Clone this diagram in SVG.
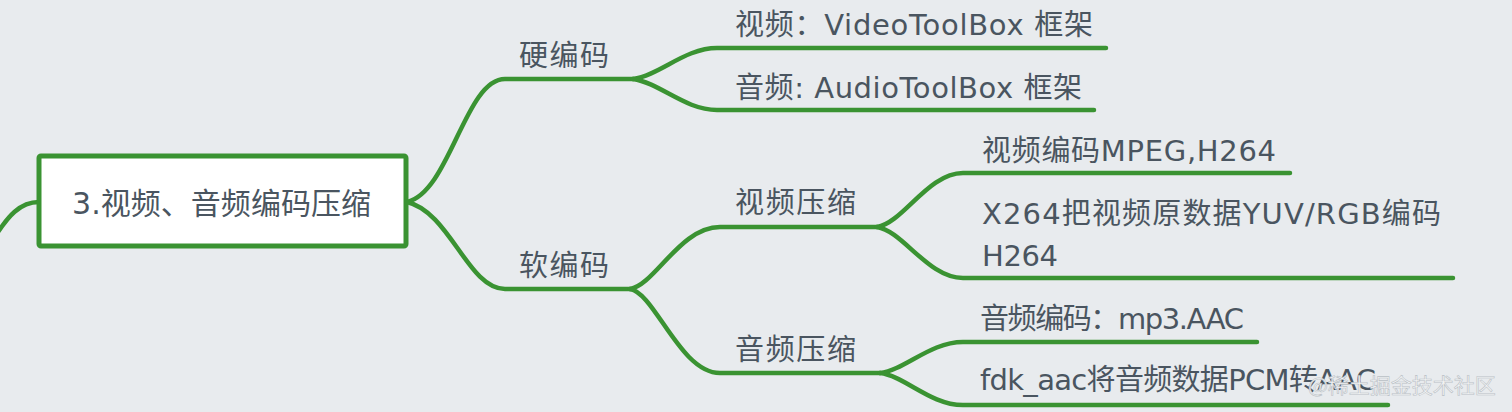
<svg xmlns="http://www.w3.org/2000/svg" width="1512" height="412" viewBox="0 0 1512 412">
<style>
.bg{fill:#e8ebee}
.ln{fill:none;stroke:#3a9332;stroke-width:4.5;stroke-linecap:round;stroke-linejoin:round}
.box{fill:#ffffff;stroke:#3a9332;stroke-width:5}
.t{font-family:"DejaVu Sans","Noto Sans CJK SC",sans-serif;font-size:29px;fill:#4a5560}
.tm{font-size:30px}
.wm{font-family:"Noto Sans CJK SC",sans-serif;font-size:21px;fill:#f3f4f5;stroke:#b9bfc5;stroke-width:0.6}
</style>
<rect class="bg" x="0" y="0" width="1512" height="412"/>
<g id="connectors">
<path class="ln" d="M-6,238 C8,216 20,202 39,202"/>
<path class="ln" d="M407,202 C450,192 465,79 505,79 L633,79"/>
<path class="ln" d="M407,202 C450,212 468,289 505,289 L630,289"/>
<path class="ln" d="M633,79 C660,75 685,48 717,48 L1106,48"/>
<path class="ln" d="M633,79 C660,83 685,110 717,110 L1094,110"/>
<path class="ln" d="M630,289 C655,285 680,227 720,227 L877,227"/>
<path class="ln" d="M630,289 C655,293 680,373 720,373 L880,373"/>
<path class="ln" d="M877,227 C903,223 928,173 963,173 L1290,173"/>
<path class="ln" d="M877,227 C903,231 928,278 963,278 L1453,278"/>
<path class="ln" d="M880,373 C905,370 930,342 963,342 L1257,342"/>
<path class="ln" d="M880,373 C905,376 930,405 963,405 L1388,405"/>
</g>
<g id="root">
<rect class="box" x="39" y="156" width="367" height="90" rx="2"/>
<text class="t tm" x="72" y="214" textLength="299" lengthAdjust="spacing">3.视频、音频编码压缩</text>
</g>
<g id="hard"><text class="t" x="519" y="66" textLength="90" lengthAdjust="spacing">硬编码</text></g>
<g id="soft"><text class="t" x="519" y="276" textLength="90" lengthAdjust="spacing">软编码</text></g>
<g id="hard-video"><text class="t" x="735" y="35" textLength="358" lengthAdjust="spacing">视频：VideoToolBox 框架</text></g>
<g id="hard-audio"><text class="t" x="735" y="98" textLength="347" lengthAdjust="spacing">音频: AudioToolBox 框架</text></g>
<g id="soft-video"><text class="t" x="735" y="213" textLength="121" lengthAdjust="spacing">视频压缩</text></g>
<g id="soft-audio"><text class="t" x="735" y="360" textLength="121" lengthAdjust="spacing">音频压缩</text></g>
<g id="video-mpeg"><text class="t" x="982" y="161" textLength="294" lengthAdjust="spacing">视频编码MPEG,H264</text></g>
<g id="video-x264">
<text class="t" x="982" y="224" textLength="459" lengthAdjust="spacing">X264把视频原数据YUV/RGB编码</text>
<text class="t" x="982" y="266" textLength="76" lengthAdjust="spacing">H264</text>
</g>
<g id="audio-mp3"><text class="t" x="980" y="329" textLength="264" lengthAdjust="spacing">音频编码：mp3.AAC</text></g>
<g id="audio-fdk"><text class="t" x="980" y="390" textLength="396" lengthAdjust="spacing">fdk_aac将音频数据PCM转AAC</text></g>
<text class="wm" x="1308" y="393">@稀土掘金技术社区</text>
</svg>
